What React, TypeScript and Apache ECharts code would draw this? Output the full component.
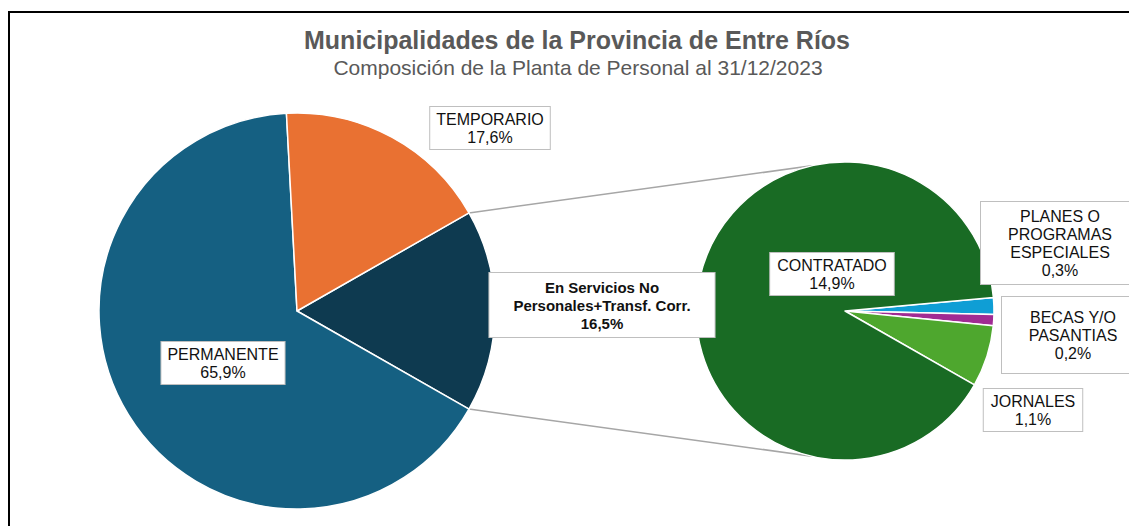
import React, { useEffect, useRef } from "react";
import * as echarts from "echarts";

const mainCategories = ["En Servicios No\nPersonales+Transf. Corr.", "PERMANENTE", "TEMPORARIO"];
const mainValues = [16.5, 65.9, 17.6];
const mainColors = ["#0E3A50", "#156082", "#E97132"];

const subCategories = ["PLANES O\nPROGRAMAS\nESPECIALES", "BECAS Y/O\nPASANTIAS", "JORNALES", "CONTRATADO"];
const subValues = [0.3, 0.2, 1.1, 14.9];
const subColors = ["#0F9ED5", "#A02B93", "#4EA72E", "#196B24"];

const titleText = "Municipalidades de la Provincia de Entre Ríos";
const subtitleText = "Composición de la Planta de Personal al 31/12/2023";

// layout (not data)
const mainCenter = [297, 311];
const mainRadius = 198;
const subCenter = [845, 311];
const subRadius = 149;
const subStartAngle = 5.2;
const mainLabelPos = [
  [602, 305],
  [223, 363],
  [490, 128],
];
const subLabelPos = [
  [1060, 243],
  [1073, 335],
  [1033, 410],
  [832, 274],
];
const subLabelBox = [
  { width: 140, padding: [5, 9] },
  { width: 126, padding: [11, 8] },
  { padding: [3, 7] },
  { padding: [3, 7] },
];
const mainLabelBox = [
  { padding: [5, 24], fontWeight: "bold", fontSize: 15 },
  { padding: [3, 6] },
  { padding: [3, 6] },
];

const fontFamily = "'Liberation Sans', Arial, sans-serif";

function fmt(v: number) {
  return v.toFixed(1).replace(".", ",") + "%";
}

export default function App() {
  const ref = useRef<HTMLDivElement>(null);

  useEffect(() => {
    if (!ref.current) return;
    const chart = echarts.init(ref.current, undefined, { renderer: "svg" });
    const mainTotal = mainValues.reduce((a, b) => a + b, 0);
    const half = (mainValues[0] / mainTotal) * 180;
    const rad = (d: number) => (d * Math.PI) / 180;
    const p1 = [mainCenter[0] + mainRadius * Math.cos(rad(half)), mainCenter[1] - mainRadius * Math.sin(rad(half))];
    const p2 = [mainCenter[0] + mainRadius * Math.cos(rad(-half)), mainCenter[1] - mainRadius * Math.sin(rad(-half))];
    const q1 = [subCenter[0] + subRadius * Math.cos(rad(103)), subCenter[1] - subRadius * Math.sin(rad(103))];
    const q2 = [subCenter[0] + subRadius * Math.cos(rad(-103)), subCenter[1] - subRadius * Math.sin(rad(-103))];

    const labelBase = {
      show: true,
      position: "inside",
      color: "#111",
      fontFamily,
      fontSize: 16,
      lineHeight: 18,
      backgroundColor: "#fff",
      borderColor: "#bfbfbf",
      borderWidth: 1,
      align: "center",
    };

    chart.setOption({
      animation: false,
      backgroundColor: "#fff",
      title: [
        {
          text: titleText,
          left: 572,
          top: 22,
          textAlign: "center",
          textStyle: { fontFamily, fontSize: 25, fontWeight: "bold", color: "#595959" },
        },
        {
          text: subtitleText,
          left: 573,
          top: 52,
          textAlign: "center",
          textStyle: { fontFamily, fontSize: 21, fontWeight: "normal", color: "#595959" },
        },
      ],
      graphic: [
        {
          type: "rect",
          shape: { x: 9, y: 12, width: 1200, height: 600 },
          style: { fill: "none", stroke: "#000", lineWidth: 2 },
          z: 0,
        },
        {
          type: "line",
          shape: { x1: p1[0], y1: p1[1], x2: q1[0], y2: q1[1] },
          style: { stroke: "#a6a6a6", lineWidth: 1.5 },
          z: 0,
        },
        {
          type: "line",
          shape: { x1: p2[0], y1: p2[1], x2: q2[0], y2: q2[1] },
          style: { stroke: "#a6a6a6", lineWidth: 1.5 },
          z: 0,
        },
      ],
      series: [
        {
          type: "pie",
          center: mainCenter,
          radius: mainRadius,
          startAngle: half,
          clockwise: true,
          avoidLabelOverlap: false,
          itemStyle: { borderColor: "#fff", borderWidth: 1.5 },
          emphasis: { disabled: true },
          labelLine: { show: false },
          label: labelBase,
          labelLayout: (p: any) => ({
            x: mainLabelPos[p.dataIndex][0],
            y: mainLabelPos[p.dataIndex][1],
            align: "center",
            verticalAlign: "middle",
          }),
          data: mainCategories.map((name, i) => ({
            name,
            value: mainValues[i],
            itemStyle: { color: mainColors[i] },
            label: { ...mainLabelBox[i], formatter: name + "\n" + fmt(mainValues[i]) },
          })),
        },
        {
          type: "pie",
          center: subCenter,
          radius: subRadius,
          startAngle: subStartAngle,
          clockwise: true,
          avoidLabelOverlap: false,
          itemStyle: { borderColor: "#fff", borderWidth: 1.5 },
          emphasis: { disabled: true },
          labelLine: { show: false },
          label: labelBase,
          labelLayout: (p: any) => ({
            x: subLabelPos[p.dataIndex][0],
            y: subLabelPos[p.dataIndex][1],
            align: "center",
            verticalAlign: "middle",
          }),
          data: subCategories.map((name, i) => ({
            name,
            value: subValues[i],
            itemStyle: { color: subColors[i] },
            label: { ...subLabelBox[i], formatter: name + "\n" + fmt(subValues[i]) },
          })),
        },
      ],
    });
    return () => chart.dispose();
  }, []);

  return (
    <div
      ref={ref}
      style={{ position: "fixed", left: 0, top: 0, width: 1129, height: 526 }}
    />
  );
}
